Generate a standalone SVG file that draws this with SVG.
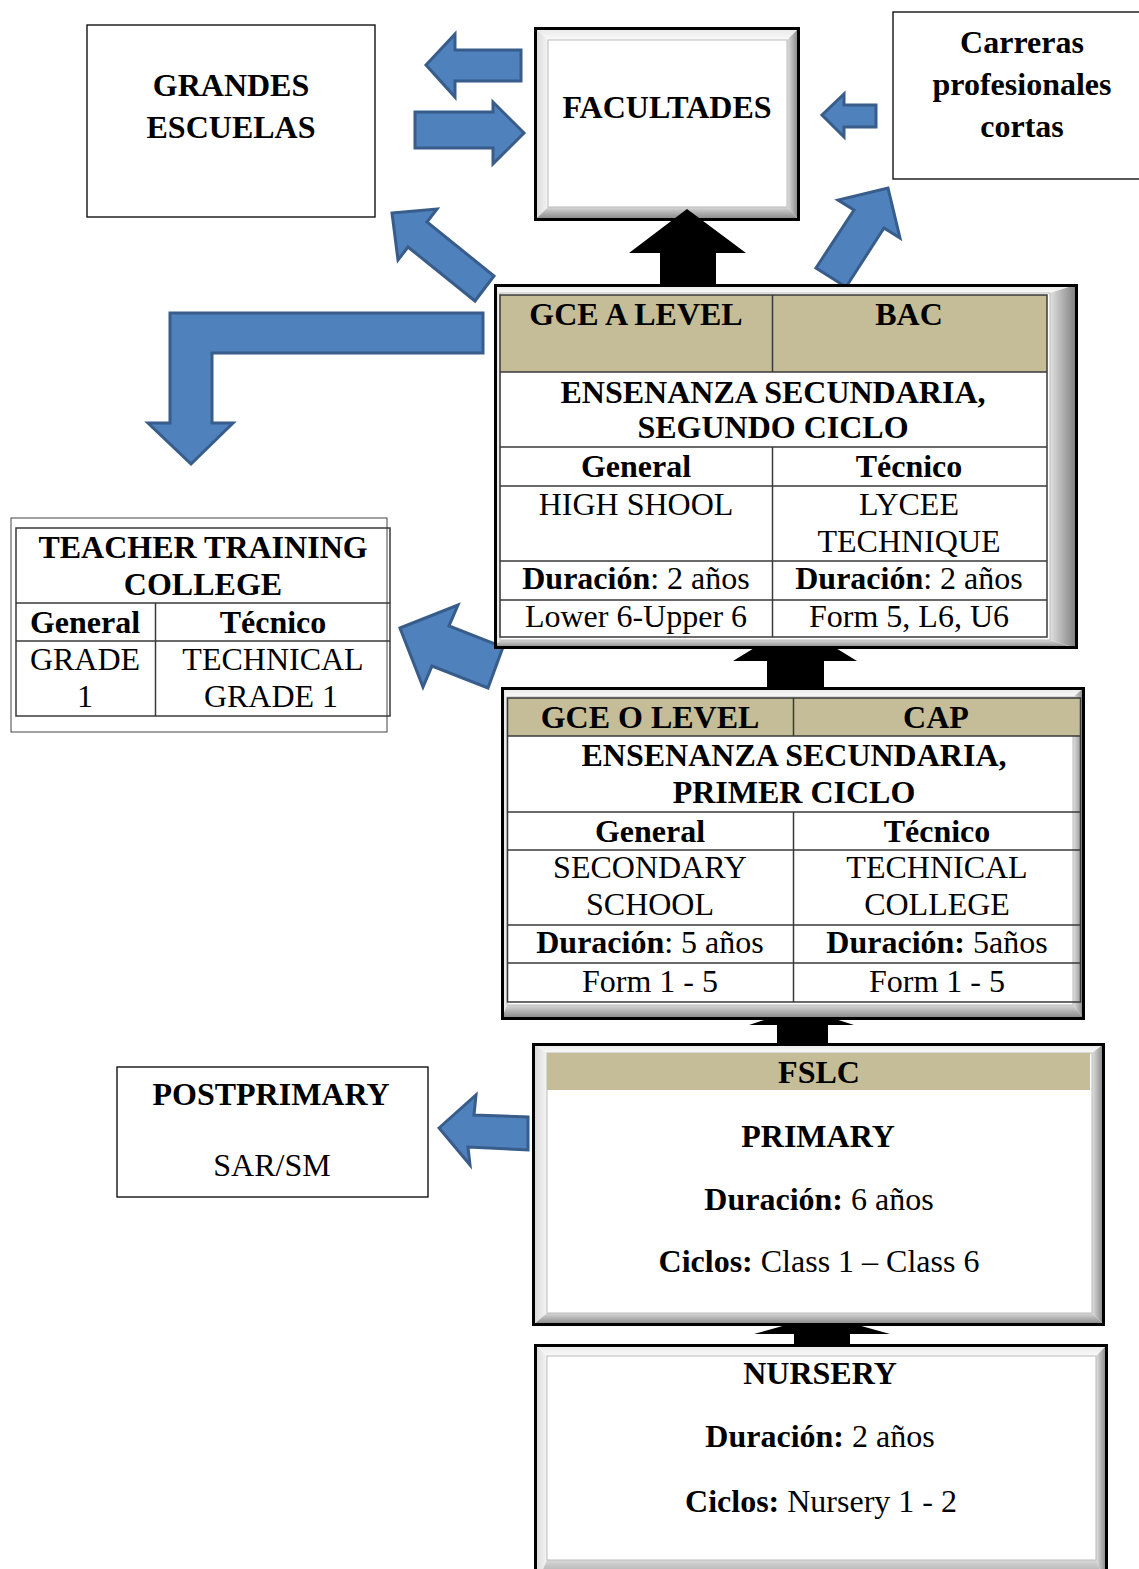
<svg xmlns="http://www.w3.org/2000/svg" width="1139" height="1569" viewBox="0 0 1139 1569">
<defs>
<linearGradient id="gT" x1="0" y1="0" x2="0" y2="1"><stop offset="0" stop-color="#e6e6e6"/><stop offset="1" stop-color="#fafafa"/></linearGradient>
<linearGradient id="gL" x1="0" y1="0" x2="1" y2="0"><stop offset="0" stop-color="#d6d6d6"/><stop offset="1" stop-color="#f4f4f4"/></linearGradient>
<linearGradient id="gR" x1="0" y1="0" x2="1" y2="0"><stop offset="0" stop-color="#e0e0e0"/><stop offset="1" stop-color="#777"/></linearGradient>
<linearGradient id="gB" x1="0" y1="0" x2="0" y2="1"><stop offset="0" stop-color="#d8d8d8"/><stop offset="1" stop-color="#7a7a7a"/></linearGradient>
</defs>
<style>
.t{font-family:"Liberation Serif","Times New Roman",serif;font-size:32px;fill:#000;text-anchor:middle}
.b{font-weight:bold}
.blue{fill:#4f81bd;stroke:#385d8a;stroke-width:3;stroke-linejoin:miter}
.blk{fill:#000}
.box{fill:#fff;stroke:#000;stroke-width:1.3}
.ob{fill:none;stroke:#000;stroke-width:3}
.in{fill:#fff;stroke:#bbb;stroke-width:1}
.tan{fill:#c4bd97}
.grid{stroke:#3a3a3a;stroke-width:1.5;fill:none}
</style>
<rect width="1139" height="1569" fill="#fff"/>

<g id="grandes-escuelas">
<rect class="box" x="87" y="25" width="288" height="192"/>
<text class="t b" x="231" y="96">GRANDES</text>
<text class="t b" x="231" y="138">ESCUELAS</text>
</g>

<g id="carreras">
<rect class="box" x="893" y="12" width="260" height="167"/>
<text class="t b" x="1022" y="53">Carreras</text>
<text class="t b" x="1022" y="95">profesionales</text>
<text class="t b" x="1022" y="137">cortas</text>
</g>

<g id="facultades">
<polygon fill="url(#gT)" points="534,27 800,27 787,40 548,40"/>
<polygon fill="url(#gL)" points="534,27 548,40 548,207 534,221"/>
<polygon fill="url(#gR)" points="800,27 800,221 787,207 787,40"/>
<polygon fill="url(#gB)" points="534,221 548,207 787,207 800,221"/>
<rect class="in" x="548" y="40" width="239" height="167"/>
<rect class="ob" x="535.5" y="28.5" width="263" height="191"/>
<text class="t b" x="667" y="118">FACULTADES</text>
</g>

<g id="connectors">
<polygon class="blk" points="687,209 746,253 716,253 716,292 660,292 660,253 629,253"/>
<polygon class="blk" points="795,623 857,661 824,661 824,690 767,690 767,661 733,661"/>
<polygon class="blk" points="801,1008 854,1025 828,1025 828,1046 777,1046 777,1025 749,1025"/>
<polygon class="blk" points="822,1315 890,1334 850,1334 850,1350 794,1350 794,1334 754,1334"/>
<polygon class="blue" points="521,50 455,50 455,34 426,65 455,97 455,81 521,81"/>
<polygon class="blue" points="415,112 493,112 493,102 524,133 493,164 493,148 415,148"/>
<polygon class="blue" points="876,105 844,105 844,94 822,115 844,137 844,127 876,127"/>
<polygon class="blue" points="392,213 437,209 427,222 494,276 475,301 408,247 398,260"/>
<polygon class="blue" points="888,188 900,238 884,228 846,287 816,268 854,210 838,200"/>
<polygon class="blue" points="483,313 170,313 170,423 148,423 191,464 233,423 212,423 212,353 483,353"/>
<polygon class="blue" points="400,628 458,605 449,626 503,647 488,688 432,666 423,687"/>
<polygon class="blue" points="439,1128 476,1095 474,1115 528,1117 528,1150 468,1147 470,1165"/>
</g>

<g id="secundaria-segundo-ciclo">
<polygon fill="url(#gT)" points="494,284 1078,284 1050,293 500,293"/>
<polygon fill="url(#gL)" points="494,284 500,293 500,640 494,649"/>
<polygon fill="url(#gR)" points="1078,284 1078,649 1050,640 1050,293"/>
<polygon fill="url(#gB)" points="494,649 500,640 1050,640 1078,649"/>
<rect class="in" x="500" y="293" width="550" height="347"/>
<rect class="tan" x="500" y="295" width="547" height="77"/>
<rect class="grid" x="500" y="295" width="547" height="342"/>
<path class="grid" d="M500 372H1047M500 447H1047M500 486H1047M500 561H1047M500 600H1047M772.5 295V372M772.5 447V637"/>
<rect class="ob" x="495.5" y="285.5" width="581" height="362"/>
<text class="t b" x="636" y="325">GCE A LEVEL</text>
<text class="t b" x="909" y="325">BAC</text>
<text class="t b" x="773" y="403">ENSENANZA SECUNDARIA,</text>
<text class="t b" x="773" y="438">SEGUNDO CICLO</text>
<text class="t b" x="636" y="477">General</text>
<text class="t b" x="909" y="477">Técnico</text>
<text class="t" x="636" y="515">HIGH SHOOL</text>
<text class="t" x="909" y="515">LYCEE</text>
<text class="t" x="909" y="552">TECHNIQUE</text>
<text class="t" x="636" y="589"><tspan class="b">Duración</tspan>: 2 años</text>
<text class="t" x="909" y="589"><tspan class="b">Duración</tspan>: 2 años</text>
<text class="t" x="636" y="627">Lower 6-Upper 6</text>
<text class="t" x="909" y="627">Form 5, L6, U6</text>
</g>

<g id="teacher-training">
<rect fill="#fff" stroke="#444" stroke-width="1" x="11" y="518" width="376" height="214"/>
<rect class="grid" x="16" y="528" width="374" height="188" stroke="#222"/>
<path class="grid" d="M16 603H390M16 641H390M155.5 603V716"/>
<text class="t b" x="203" y="558">TEACHER TRAINING</text>
<text class="t b" x="203" y="595">COLLEGE</text>
<text class="t b" x="85" y="633">General</text>
<text class="t b" x="273" y="633">Técnico</text>
<text class="t" x="85" y="670">GRADE</text>
<text class="t" x="85" y="707">1</text>
<text class="t" x="273" y="670">TECHNICAL</text>
<text class="t" x="271" y="707">GRADE 1</text>
</g>

<g id="secundaria-primer-ciclo">
<polygon fill="url(#gT)" points="501,687 1085,687 1073,697 507,697"/>
<polygon fill="url(#gL)" points="501,687 507,697 507,1005 501,1020"/>
<polygon fill="url(#gR)" points="1085,687 1085,1020 1073,1005 1073,697"/>
<polygon fill="url(#gB)" points="501,1020 507,1005 1073,1005 1085,1020"/>
<rect class="in" x="507" y="697" width="566" height="308"/>
<rect class="tan" x="507.5" y="698" width="573" height="38"/>
<rect class="grid" x="507.5" y="698" width="573" height="304"/>
<path class="grid" d="M507.5 736H1080.5M507.5 812H1080.5M507.5 850H1080.5M507.5 925H1080.5M507.5 963H1080.5M793.5 698V736M793.5 812V1002"/>
<rect class="ob" x="502.5" y="688.5" width="581" height="330"/>
<text class="t b" x="650" y="728">GCE O LEVEL</text>
<text class="t b" x="936" y="728">CAP</text>
<text class="t b" x="794" y="766">ENSENANZA SECUNDARIA,</text>
<text class="t b" x="794" y="803">PRIMER CICLO</text>
<text class="t b" x="650" y="842">General</text>
<text class="t b" x="937" y="842">Técnico</text>
<text class="t" x="650" y="878">SECONDARY</text>
<text class="t" x="650" y="915">SCHOOL</text>
<text class="t" x="937" y="878">TECHNICAL</text>
<text class="t" x="937" y="915">COLLEGE</text>
<text class="t" x="650" y="953"><tspan class="b">Duración</tspan>: 5 años</text>
<text class="t" x="937" y="953"><tspan class="b">Duración: </tspan>5años</text>
<text class="t" x="650" y="992">Form 1 - 5</text>
<text class="t" x="937" y="992">Form 1 - 5</text>
</g>

<g id="primary">
<polygon fill="url(#gT)" points="532,1043 1105,1043 1092,1053 547,1053"/>
<polygon fill="url(#gL)" points="532,1043 547,1053 547,1313 532,1326"/>
<polygon fill="url(#gR)" points="1105,1043 1105,1326 1092,1313 1092,1053"/>
<polygon fill="url(#gB)" points="532,1326 547,1313 1092,1313 1105,1326"/>
<rect class="in" x="547" y="1053" width="545" height="260"/>
<rect class="tan" x="547" y="1053" width="543" height="37"/>
<rect class="ob" x="533.5" y="1044.5" width="570" height="280"/>
<text class="t b" x="819" y="1083">FSLC</text>
<text class="t b" x="818" y="1147">PRIMARY</text>
<text class="t" x="819" y="1210"><tspan class="b">Duración:</tspan> 6 años</text>
<text class="t" x="819" y="1272"><tspan class="b">Ciclos:</tspan> Class 1 – Class 6</text>
</g>

<g id="postprimary">
<rect class="box" x="117" y="1067" width="311" height="130"/>
<text class="t b" x="271" y="1105">POSTPRIMARY</text>
<text class="t" x="272" y="1176">SAR/SM</text>
</g>

<g id="nursery">
<polygon fill="url(#gT)" points="534,1344 1108,1344 1096,1356 547,1356"/>
<polygon fill="url(#gL)" points="534,1344 547,1356 547,1560 534,1590"/>
<polygon fill="url(#gR)" points="1108,1344 1108,1590 1096,1560 1096,1356"/>
<polygon fill="url(#gB)" points="534,1590 547,1560 1096,1560 1108,1590"/>
<rect class="in" x="547" y="1356" width="549" height="204"/>
<rect class="ob" x="535.5" y="1345.5" width="571" height="240"/>
<text class="t b" x="820" y="1384">NURSERY</text>
<text class="t" x="820" y="1447"><tspan class="b">Duración:</tspan> 2 años</text>
<text class="t" x="821" y="1512"><tspan class="b">Ciclos:</tspan> Nursery 1 - 2</text>
</g>
</svg>
